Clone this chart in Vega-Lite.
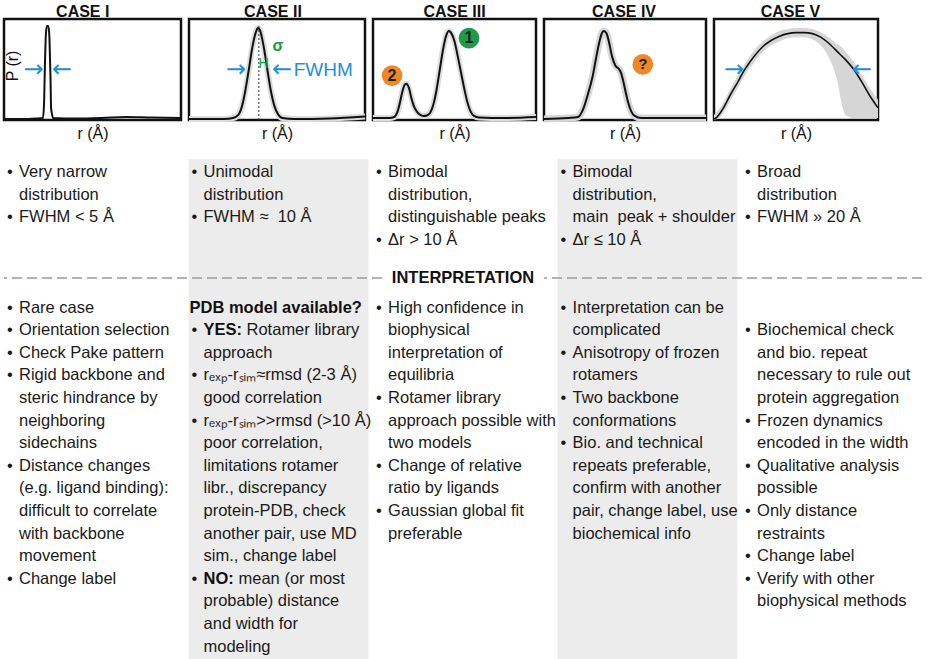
{
  "$schema": "https://vega.github.io/schema/vega-lite/v6.json",
  "padding": {"left": -2, "top": 3, "right": 0, "bottom": 0},
  "background": "white",
  "config": {
    "font": "Liberation Sans",
    "view": {"stroke": "#111111", "strokeWidth": 2.5},
    "axis": {"grid": false, "labels": false, "ticks": false, "domain": false, "titleFontSize": 16, "titleFontWeight": "normal", "titleColor": "#111111", "titlePadding": 5, "titleFont": "Liberation Sans"},
    "text": {"font": "Liberation Sans", "color": "#1a1a1a"}
  },
  "datasets": {
    "curves": [
      {"c": "I", "r": 0, "p": 0.01}, {"c": "I", "r": 10, "p": 0.01}, {"c": "I", "r": 18, "p": 0.015}, {"c": "I", "r": 22, "p": 0.02},
      {"c": "I", "r": 22.6, "p": 0.15}, {"c": "I", "r": 23.2, "p": 0.6}, {"c": "I", "r": 23.7, "p": 0.86}, {"c": "I", "r": 24.3, "p": 0.93},
      {"c": "I", "r": 25.1, "p": 0.93}, {"c": "I", "r": 25.7, "p": 0.8}, {"c": "I", "r": 26.3, "p": 0.4}, {"c": "I", "r": 26.6, "p": 0.12},
      {"c": "I", "r": 27.1, "p": 0.06}, {"c": "I", "r": 27.7, "p": 0.02}, {"c": "I", "r": 40, "p": 0.015}, {"c": "I", "r": 55, "p": 0.02},
      {"c": "I", "r": 69, "p": 0.03}, {"c": "I", "r": 83, "p": 0.025}, {"c": "I", "r": 100, "p": 0.02},

      {"c": "II", "r": 0, "p": 0.01}, {"c": "II", "r": 20, "p": 0.01}, {"c": "II", "r": 25, "p": 0.02}, {"c": "II", "r": 28, "p": 0.05},
      {"c": "II", "r": 30, "p": 0.13}, {"c": "II", "r": 32, "p": 0.29}, {"c": "II", "r": 34, "p": 0.5}, {"c": "II", "r": 36, "p": 0.72},
      {"c": "II", "r": 38, "p": 0.87}, {"c": "II", "r": 39.2, "p": 0.91}, {"c": "II", "r": 40.5, "p": 0.88}, {"c": "II", "r": 42.5, "p": 0.72},
      {"c": "II", "r": 44.5, "p": 0.5}, {"c": "II", "r": 46.5, "p": 0.29}, {"c": "II", "r": 48.5, "p": 0.14}, {"c": "II", "r": 50.5, "p": 0.06},
      {"c": "II", "r": 53, "p": 0.02}, {"c": "II", "r": 60, "p": 0.01}, {"c": "II", "r": 80, "p": 0.015}, {"c": "II", "r": 100, "p": 0.035},

      {"c": "III", "r": 0, "p": 0.02}, {"c": "III", "r": 10, "p": 0.02}, {"c": "III", "r": 13, "p": 0.03}, {"c": "III", "r": 15, "p": 0.08},
      {"c": "III", "r": 16.5, "p": 0.17}, {"c": "III", "r": 18, "p": 0.28}, {"c": "III", "r": 19.5, "p": 0.35}, {"c": "III", "r": 20.5, "p": 0.36},
      {"c": "III", "r": 22, "p": 0.32}, {"c": "III", "r": 23.5, "p": 0.22}, {"c": "III", "r": 25, "p": 0.14}, {"c": "III", "r": 27, "p": 0.08},
      {"c": "III", "r": 29, "p": 0.05}, {"c": "III", "r": 31, "p": 0.04}, {"c": "III", "r": 33, "p": 0.045}, {"c": "III", "r": 35, "p": 0.07},
      {"c": "III", "r": 37, "p": 0.15}, {"c": "III", "r": 39, "p": 0.3}, {"c": "III", "r": 41, "p": 0.5}, {"c": "III", "r": 43, "p": 0.7},
      {"c": "III", "r": 45, "p": 0.84}, {"c": "III", "r": 46.6, "p": 0.88}, {"c": "III", "r": 48, "p": 0.86}, {"c": "III", "r": 50, "p": 0.78},
      {"c": "III", "r": 52, "p": 0.63}, {"c": "III", "r": 54, "p": 0.47}, {"c": "III", "r": 56, "p": 0.31}, {"c": "III", "r": 58, "p": 0.17},
      {"c": "III", "r": 60, "p": 0.08}, {"c": "III", "r": 62, "p": 0.04}, {"c": "III", "r": 65, "p": 0.025}, {"c": "III", "r": 80, "p": 0.02},
      {"c": "III", "r": 100, "p": 0.03},

      {"c": "IV", "r": 0, "p": 0.01}, {"c": "IV", "r": 15, "p": 0.02}, {"c": "IV", "r": 21, "p": 0.03}, {"c": "IV", "r": 24, "p": 0.1},
      {"c": "IV", "r": 27, "p": 0.25}, {"c": "IV", "r": 30, "p": 0.43}, {"c": "IV", "r": 32, "p": 0.6}, {"c": "IV", "r": 34, "p": 0.76},
      {"c": "IV", "r": 35.5, "p": 0.85}, {"c": "IV", "r": 37, "p": 0.88}, {"c": "IV", "r": 38.5, "p": 0.86}, {"c": "IV", "r": 40, "p": 0.78},
      {"c": "IV", "r": 42, "p": 0.63}, {"c": "IV", "r": 44, "p": 0.54}, {"c": "IV", "r": 46, "p": 0.51}, {"c": "IV", "r": 47.5, "p": 0.47},
      {"c": "IV", "r": 49, "p": 0.38}, {"c": "IV", "r": 50.5, "p": 0.27}, {"c": "IV", "r": 52, "p": 0.17}, {"c": "IV", "r": 54, "p": 0.08},
      {"c": "IV", "r": 56, "p": 0.04}, {"c": "IV", "r": 60, "p": 0.02}, {"c": "IV", "r": 100, "p": 0.02},

      {"c": "V", "r": 0, "p": 0.01}, {"c": "V", "r": 1.2, "p": 0.02}, {"c": "V", "r": 5, "p": 0.1}, {"c": "V", "r": 10, "p": 0.25},
      {"c": "V", "r": 15, "p": 0.39}, {"c": "V", "r": 18, "p": 0.48}, {"c": "V", "r": 20, "p": 0.53}, {"c": "V", "r": 25, "p": 0.64},
      {"c": "V", "r": 30, "p": 0.73}, {"c": "V", "r": 35, "p": 0.79}, {"c": "V", "r": 40, "p": 0.83}, {"c": "V", "r": 45, "p": 0.855},
      {"c": "V", "r": 50, "p": 0.865}, {"c": "V", "r": 55, "p": 0.865}, {"c": "V", "r": 60, "p": 0.855}, {"c": "V", "r": 65, "p": 0.82},
      {"c": "V", "r": 70, "p": 0.76}, {"c": "V", "r": 75, "p": 0.68}, {"c": "V", "r": 80, "p": 0.6}, {"c": "V", "r": 85, "p": 0.505},
      {"c": "V", "r": 90, "p": 0.38}, {"c": "V", "r": 95, "p": 0.24}, {"c": "V", "r": 100, "p": 0.12}
    ],
    "band5": [
      {"r": 0, "lo": 0.0, "hi": 0.05}, {"r": 5, "lo": 0.05, "hi": 0.15}, {"r": 10, "lo": 0.19, "hi": 0.31}, {"r": 15, "lo": 0.33, "hi": 0.45},
      {"r": 20, "lo": 0.47, "hi": 0.59}, {"r": 25, "lo": 0.58, "hi": 0.7}, {"r": 30, "lo": 0.68, "hi": 0.78}, {"r": 35, "lo": 0.74, "hi": 0.84},
      {"r": 40, "lo": 0.78, "hi": 0.88}, {"r": 45, "lo": 0.81, "hi": 0.9}, {"r": 50, "lo": 0.82, "hi": 0.91}, {"r": 55, "lo": 0.82, "hi": 0.91},
      {"r": 60, "lo": 0.8, "hi": 0.9}, {"r": 65, "lo": 0.74, "hi": 0.87}, {"r": 70, "lo": 0.62, "hi": 0.82}, {"r": 75, "lo": 0.4, "hi": 0.75},
      {"r": 78, "lo": 0.15, "hi": 0.72}, {"r": 80, "lo": 0.05, "hi": 0.68}, {"r": 85, "lo": 0.02, "hi": 0.58}, {"r": 90, "lo": 0.02, "hi": 0.45},
      {"r": 95, "lo": 0.02, "hi": 0.32}, {"r": 100, "lo": 0.02, "hi": 0.2}
    ],
    "notes": [
      {"case": "CASE I", "line": 0, "kind": "b", "text": "Very narrow"},
      {"case": "CASE I", "line": 1, "kind": "c", "text": "distribution"},
      {"case": "CASE I", "line": 2, "kind": "b", "text": "FWHM < 5 Å"},
      {"case": "CASE I", "line": 6, "kind": "b", "text": "Rare case"},
      {"case": "CASE I", "line": 7, "kind": "b", "text": "Orientation selection"},
      {"case": "CASE I", "line": 8, "kind": "b", "text": "Check Pake pattern"},
      {"case": "CASE I", "line": 9, "kind": "b", "text": "Rigid backbone and"},
      {"case": "CASE I", "line": 10, "kind": "c", "text": "steric hindrance by"},
      {"case": "CASE I", "line": 11, "kind": "c", "text": "neighboring"},
      {"case": "CASE I", "line": 12, "kind": "c", "text": "sidechains"},
      {"case": "CASE I", "line": 13, "kind": "b", "text": "Distance changes"},
      {"case": "CASE I", "line": 14, "kind": "c", "text": "(e.g. ligand binding):"},
      {"case": "CASE I", "line": 15, "kind": "c", "text": "difficult to correlate"},
      {"case": "CASE I", "line": 16, "kind": "c", "text": "with backbone"},
      {"case": "CASE I", "line": 17, "kind": "c", "text": "movement"},
      {"case": "CASE I", "line": 18, "kind": "b", "text": "Change label"},

      {"case": "CASE II", "line": 0, "kind": "b", "text": "Unimodal"},
      {"case": "CASE II", "line": 1, "kind": "c", "text": "distribution"},
      {"case": "CASE II", "line": 2, "kind": "b", "text": "FWHM ≈\u00a0 10 Å"},
      {"case": "CASE II", "line": 6, "kind": "h", "text": "PDB model available?"},
      {"case": "CASE II", "line": 7, "kind": "lab", "lab": "YES:", "text": "Rotamer library"},
      {"case": "CASE II", "line": 8, "kind": "c", "text": "approach"},
      {"case": "CASE II", "line": 9, "kind": "b", "text": "rₑₓₚ-rₛᵢₘ≈rmsd (2-3 Å)"},
      {"case": "CASE II", "line": 10, "kind": "c", "text": "good correlation"},
      {"case": "CASE II", "line": 11, "kind": "b", "text": "rₑₓₚ-rₛᵢₘ>>rmsd (>10 Å)"},
      {"case": "CASE II", "line": 12, "kind": "c", "text": "poor correlation,"},
      {"case": "CASE II", "line": 13, "kind": "c", "text": "limitations rotamer"},
      {"case": "CASE II", "line": 14, "kind": "c", "text": "libr., discrepancy"},
      {"case": "CASE II", "line": 15, "kind": "c", "text": "protein-PDB, check"},
      {"case": "CASE II", "line": 16, "kind": "c", "text": "another pair, use MD"},
      {"case": "CASE II", "line": 17, "kind": "c", "text": "sim., change label"},
      {"case": "CASE II", "line": 18, "kind": "lab", "lab": "NO:", "text": "mean (or most"},
      {"case": "CASE II", "line": 19, "kind": "c", "text": "probable) distance"},
      {"case": "CASE II", "line": 20, "kind": "c", "text": "and width for"},
      {"case": "CASE II", "line": 21, "kind": "c", "text": "modeling"},

      {"case": "CASE III", "line": 0, "kind": "b", "text": "Bimodal"},
      {"case": "CASE III", "line": 1, "kind": "c", "text": "distribution,"},
      {"case": "CASE III", "line": 2, "kind": "c", "text": "distinguishable peaks"},
      {"case": "CASE III", "line": 3, "kind": "b", "text": "Δr > 10 Å"},
      {"case": "CASE III", "line": 6, "kind": "b", "text": "High confidence in"},
      {"case": "CASE III", "line": 7, "kind": "c", "text": "biophysical"},
      {"case": "CASE III", "line": 8, "kind": "c", "text": "interpretation of"},
      {"case": "CASE III", "line": 9, "kind": "c", "text": "equilibria"},
      {"case": "CASE III", "line": 10, "kind": "b", "text": "Rotamer library"},
      {"case": "CASE III", "line": 11, "kind": "c", "text": "approach possible with"},
      {"case": "CASE III", "line": 12, "kind": "c", "text": "two models"},
      {"case": "CASE III", "line": 13, "kind": "b", "text": "\u00a0Change of relative"},
      {"case": "CASE III", "line": 14, "kind": "c", "text": "ratio by ligands"},
      {"case": "CASE III", "line": 15, "kind": "b", "text": "Gaussian global fit"},
      {"case": "CASE III", "line": 16, "kind": "c", "text": "preferable"},

      {"case": "CASE IV", "line": 0, "kind": "b", "text": "Bimodal"},
      {"case": "CASE IV", "line": 1, "kind": "c", "text": "distribution,"},
      {"case": "CASE IV", "line": 2, "kind": "c", "text": "main\u00a0 peak + shoulder"},
      {"case": "CASE IV", "line": 3, "kind": "b", "text": "Δr ≤ 10 Å"},
      {"case": "CASE IV", "line": 6, "kind": "b", "text": "Interpretation can be"},
      {"case": "CASE IV", "line": 7, "kind": "c", "text": "complicated"},
      {"case": "CASE IV", "line": 8, "kind": "b", "text": "Anisotropy of frozen"},
      {"case": "CASE IV", "line": 9, "kind": "c", "text": "rotamers"},
      {"case": "CASE IV", "line": 10, "kind": "b", "text": "Two backbone"},
      {"case": "CASE IV", "line": 11, "kind": "c", "text": "conformations"},
      {"case": "CASE IV", "line": 12, "kind": "b", "text": "Bio. and technical"},
      {"case": "CASE IV", "line": 13, "kind": "c", "text": "repeats preferable,"},
      {"case": "CASE IV", "line": 14, "kind": "c", "text": "confirm with another"},
      {"case": "CASE IV", "line": 15, "kind": "c", "text": "pair, change label, use"},
      {"case": "CASE IV", "line": 16, "kind": "c", "text": "biochemical info"},

      {"case": "CASE V", "line": 0, "kind": "b", "text": "Broad"},
      {"case": "CASE V", "line": 1, "kind": "c", "text": "distribution"},
      {"case": "CASE V", "line": 2, "kind": "b", "text": "FWHM » 20 Å"},
      {"case": "CASE V", "line": 7, "kind": "b", "text": "Biochemical check"},
      {"case": "CASE V", "line": 8, "kind": "c", "text": "and bio. repeat"},
      {"case": "CASE V", "line": 9, "kind": "c", "text": "necessary to rule out"},
      {"case": "CASE V", "line": 10, "kind": "c", "text": "protein aggregation"},
      {"case": "CASE V", "line": 11, "kind": "b", "text": "Frozen dynamics"},
      {"case": "CASE V", "line": 12, "kind": "c", "text": "encoded in the width"},
      {"case": "CASE V", "line": 13, "kind": "b", "text": "\u00a0Qualitative analysis"},
      {"case": "CASE V", "line": 14, "kind": "c", "text": "possible"},
      {"case": "CASE V", "line": 15, "kind": "b", "text": "Only distance"},
      {"case": "CASE V", "line": 16, "kind": "c", "text": "restraints"},
      {"case": "CASE V", "line": 17, "kind": "b", "text": "Change label"},
      {"case": "CASE V", "line": 18, "kind": "b", "text": "Verify with other"},
      {"case": "CASE V", "line": 19, "kind": "c", "text": "biophysical methods"}
    ]
  },
  "bounds": "flush",
  "spacing": 140,
  "vconcat": [
    {
      "bounds": "flush",
      "spacing": 8,
      "hconcat": [
        {
          "width": 177, "height": 101,
          "encoding": {
            "x": {"field": "r", "type": "quantitative", "scale": {"domain": [0, 100], "nice": false, "zero": false}, "axis": {"title": "r (Å)"}},
            "y": {"field": "p", "type": "quantitative", "scale": {"domain": [0, 1], "nice": false}, "axis": null}
          },
          "layer": [
            {"data": {"name": "curves"}, "transform": [{"filter": "datum.c == 'I'"}], "mark": {"type": "line", "color": "#111111", "strokeWidth": 2, "interpolate": "monotone"}},
            {"data": {"values": [{"r": 16.7, "p": 0.495, "t": "→"}, {"r": 32.8, "p": 0.495, "t": "←"}]}, "mark": {"type": "text", "color": "#1e8fd8", "fontSize": 24, "font": "DejaVu Sans", "baseline": "middle"}, "encoding": {"text": {"field": "t"}}},
            {"data": {"values": [{"r": 5.3, "p": 0.535, "t": "P (r)"}]}, "mark": {"type": "text", "color": "#111111", "fontSize": 16, "angle": 270, "baseline": "middle"}, "encoding": {"text": {"field": "t"}}},
            {"data": {"values": [{"r": 44.5, "p": 1.015, "t": "CASE I"}]}, "mark": {"type": "text", "color": "#111111", "fontSize": 16, "fontWeight": "bold", "baseline": "alphabetic"}, "encoding": {"text": {"field": "t"}}}
          ]
        },
        {
          "width": 176, "height": 101,
          "encoding": {
            "x": {"field": "r", "type": "quantitative", "scale": {"domain": [0, 100], "nice": false, "zero": false}, "axis": {"title": "r (Å)"}},
            "y": {"field": "p", "type": "quantitative", "scale": {"domain": [0, 1], "nice": false}, "axis": null}
          },
          "layer": [
            {"data": {"name": "curves"}, "transform": [{"filter": "datum.c == 'II'"}], "mark": {"type": "line", "color": "#dcdcdc", "strokeWidth": 6, "interpolate": "monotone"}},
            {"data": {"name": "curves"}, "transform": [{"filter": "datum.c == 'II'"}], "mark": {"type": "line", "color": "#111111", "strokeWidth": 2, "interpolate": "monotone"}},
            {"data": {"values": [{"r": 39.7, "p": 0, "p2": 0.95}]}, "mark": {"type": "rule", "color": "#333333", "strokeWidth": 1, "strokeDash": [2, 2]}, "encoding": {"y2": {"field": "p2"}}},
            {"data": {"values": [{"r": 26.7, "p": 0.495, "t": "→"}, {"r": 52.8, "p": 0.495, "t": "←"}]}, "mark": {"type": "text", "color": "#1e8fd8", "fontSize": 24, "font": "DejaVu Sans", "baseline": "middle"}, "encoding": {"text": {"field": "t"}}},
            {"data": {"values": [{"r": 59.5, "p": 0.495, "t": "FWHM"}]}, "mark": {"type": "text", "color": "#1e8fd8", "fontSize": 19, "align": "left", "baseline": "middle"}, "encoding": {"text": {"field": "t"}}},
            {"data": {"values": [{"r": 42.4, "p": 0.55, "t": "H"}]}, "mark": {"type": "text", "color": "#1a9a40", "fontSize": 14, "baseline": "middle"}, "encoding": {"text": {"field": "t"}}},
            {"data": {"values": [{"r": 50.5, "p": 0.73, "t": "σ"}]}, "mark": {"type": "text", "color": "#1a9a40", "fontSize": 16, "fontWeight": "bold", "baseline": "middle"}, "encoding": {"text": {"field": "t"}}},
            {"data": {"values": [{"r": 47.7, "p": 1.015, "t": "CASE II"}]}, "mark": {"type": "text", "color": "#111111", "fontSize": 16, "fontWeight": "bold", "baseline": "alphabetic"}, "encoding": {"text": {"field": "t"}}}
          ]
        },
        {
          "width": 163, "height": 101,
          "encoding": {
            "x": {"field": "r", "type": "quantitative", "scale": {"domain": [0, 100], "nice": false, "zero": false}, "axis": {"title": "r (Å)"}},
            "y": {"field": "p", "type": "quantitative", "scale": {"domain": [0, 1], "nice": false}, "axis": null}
          },
          "layer": [
            {"data": {"name": "curves"}, "transform": [{"filter": "datum.c == 'III'"}], "mark": {"type": "line", "color": "#dcdcdc", "strokeWidth": 6, "interpolate": "monotone"}},
            {"data": {"name": "curves"}, "transform": [{"filter": "datum.c == 'III'"}], "mark": {"type": "line", "color": "#111111", "strokeWidth": 2, "interpolate": "monotone"}},
            {"data": {"values": [{"r": 58.9, "p": 0.81, "t": "1"}]}, "mark": {"type": "point", "filled": true, "opacity": 1, "size": 430, "color": "#1f9a4b"}},
            {"data": {"values": [{"r": 11.7, "p": 0.44, "t": "2"}]}, "mark": {"type": "point", "filled": true, "opacity": 1, "size": 430, "color": "#ef8727"}},
            {"data": {"values": [{"r": 58.9, "p": 0.81, "t": "1"}, {"r": 11.7, "p": 0.44, "t": "2"}]}, "mark": {"type": "text", "color": "#222222", "fontSize": 16, "fontWeight": "bold", "baseline": "middle"}, "encoding": {"text": {"field": "t"}}},
            {"data": {"values": [{"r": 50, "p": 1.015, "t": "CASE III"}]}, "mark": {"type": "text", "color": "#111111", "fontSize": 16, "fontWeight": "bold", "baseline": "alphabetic"}, "encoding": {"text": {"field": "t"}}}
          ]
        },
        {
          "width": 162, "height": 101,
          "encoding": {
            "x": {"field": "r", "type": "quantitative", "scale": {"domain": [0, 100], "nice": false, "zero": false}, "axis": {"title": "r (Å)"}},
            "y": {"field": "p", "type": "quantitative", "scale": {"domain": [0, 1], "nice": false}, "axis": null}
          },
          "layer": [
            {"data": {"name": "curves"}, "transform": [{"filter": "datum.c == 'IV'"}], "mark": {"type": "line", "color": "#d6d6d6", "strokeWidth": 7, "interpolate": "monotone"}},
            {"data": {"name": "curves"}, "transform": [{"filter": "datum.c == 'IV'"}], "mark": {"type": "line", "color": "#111111", "strokeWidth": 2, "interpolate": "monotone"}},
            {"data": {"values": [{"r": 61, "p": 0.55, "t": "?"}]}, "mark": {"type": "point", "filled": true, "opacity": 1, "size": 430, "color": "#ef8727"}},
            {"data": {"values": [{"r": 61, "p": 0.55, "t": "?"}]}, "mark": {"type": "text", "color": "#222222", "fontSize": 15, "fontWeight": "bold", "baseline": "middle"}, "encoding": {"text": {"field": "t"}}},
            {"data": {"values": [{"r": 49.4, "p": 1.015, "t": "CASE IV"}]}, "mark": {"type": "text", "color": "#111111", "fontSize": 16, "fontWeight": "bold", "baseline": "alphabetic"}, "encoding": {"text": {"field": "t"}}}
          ]
        },
        {
          "width": 164, "height": 101,
          "encoding": {
            "x": {"field": "r", "type": "quantitative", "scale": {"domain": [0, 100], "nice": false, "zero": false}, "axis": {"title": "r (Å)"}},
            "y": {"field": "p", "type": "quantitative", "scale": {"domain": [0, 1], "nice": false}, "axis": null}
          },
          "layer": [
            {"data": {"name": "band5"}, "mark": {"type": "area", "color": "#d6d6d6", "interpolate": "monotone"}, "encoding": {"y": {"field": "lo", "type": "quantitative"}, "y2": {"field": "hi"}}},
            {"data": {"name": "curves"}, "transform": [{"filter": "datum.c == 'V'"}], "mark": {"type": "line", "color": "#111111", "strokeWidth": 1.6, "interpolate": "monotone"}},
            {"data": {"values": [{"r": 12.2, "p": 0.5, "t": "→"}, {"r": 90.2, "p": 0.5, "t": "←"}]}, "mark": {"type": "text", "color": "#1e8fd8", "fontSize": 24, "font": "DejaVu Sans", "baseline": "middle"}, "encoding": {"text": {"field": "t"}}},
            {"data": {"values": [{"r": 46.6, "p": 1.015, "t": "CASE V"}]}, "mark": {"type": "text", "color": "#111111", "fontSize": 16, "fontWeight": "bold", "baseline": "alphabetic"}, "encoding": {"text": {"field": "t"}}}
          ]
        }
      ]
    },
    {
      "width": 918, "height": 501,
      "view": {"stroke": null},
      "layer": [
        {
          "data": {"values": [{"case": "CASE II"}, {"case": "CASE IV"}]},
          "mark": {"type": "bar", "color": "#ececec"},
          "encoding": {
            "x": {"field": "case", "type": "nominal", "scale": {"type": "band", "domain": ["CASE I", "CASE II", "CASE III", "CASE IV", "CASE V"], "paddingInner": 0.025, "paddingOuter": 0}, "axis": null},
            "y": {"datum": -0.575, "type": "quantitative", "scale": {"domain": [-0.575, 21.593], "reverse": true, "nice": false, "zero": false}, "axis": null},
            "y2": {"datum": 21.593}
          }
        },
        {
          "data": {"values": [{}]},
          "mark": {"type": "rule", "color": "#9a9a9a", "strokeWidth": 1.5, "strokeDash": [10, 5]},
          "encoding": {"y": {"datum": 4.69, "type": "quantitative"}}
        },
        {
          "data": {"values": [{}]},
          "mark": {"type": "bar", "color": "white", "width": {"band": 0.9}},
          "encoding": {
            "x": {"datum": "CASE III", "type": "nominal"},
            "y": {"datum": 4.3, "type": "quantitative"},
            "y2": {"datum": 5.1}
          }
        },
        {
          "data": {"values": [{"t": "INTERPRETATION"}]},
          "mark": {"type": "text", "fontSize": 16.5, "fontWeight": "bold", "baseline": "middle", "align": "center", "color": "#111111"},
          "encoding": {
            "x": {"datum": "CASE III", "type": "nominal"},
            "y": {"datum": 4.69, "type": "quantitative"},
            "text": {"field": "t"}
          }
        },
        {
          "data": {"name": "notes"},
          "transform": [{"filter": "datum.kind == 'b' || datum.kind == 'lab'"}],
          "mark": {"type": "text", "text": "•", "fontSize": 16.5, "align": "left", "baseline": "middle", "dx": 3},
          "encoding": {
            "x": {"field": "case", "type": "nominal", "bandPosition": 0},
            "y": {"field": "line", "type": "quantitative"}
          }
        },
        {
          "data": {"name": "notes"},
          "transform": [{"filter": "datum.kind == 'b' || datum.kind == 'c'"}],
          "mark": {"type": "text", "fontSize": 16.5, "align": "left", "baseline": "middle", "dx": 15},
          "encoding": {
            "x": {"field": "case", "type": "nominal", "bandPosition": 0},
            "y": {"field": "line", "type": "quantitative"},
            "text": {"field": "text"}
          }
        },
        {
          "data": {"name": "notes"},
          "transform": [{"filter": "datum.kind == 'h'"}],
          "mark": {"type": "text", "fontSize": 16.5, "fontWeight": "bold", "align": "left", "baseline": "middle", "dx": 1, "color": "#111111"},
          "encoding": {
            "x": {"field": "case", "type": "nominal", "bandPosition": 0},
            "y": {"field": "line", "type": "quantitative"},
            "text": {"field": "text"}
          }
        },
        {
          "data": {"name": "notes"},
          "transform": [{"filter": "datum.kind == 'lab'"}],
          "mark": {"type": "text", "fontSize": 16.5, "fontWeight": "bold", "align": "left", "baseline": "middle", "dx": 15, "color": "#111111"},
          "encoding": {
            "x": {"field": "case", "type": "nominal", "bandPosition": 0},
            "y": {"field": "line", "type": "quantitative"},
            "text": {"field": "lab"}
          }
        },
        {
          "data": {"name": "notes"},
          "transform": [{"filter": "datum.kind == 'lab' && datum.lab == 'YES:'"}],
          "mark": {"type": "text", "fontSize": 16.5, "align": "left", "baseline": "middle", "dx": 58},
          "encoding": {
            "x": {"field": "case", "type": "nominal", "bandPosition": 0},
            "y": {"field": "line", "type": "quantitative"},
            "text": {"field": "text"}
          }
        },
        {
          "data": {"name": "notes"},
          "transform": [{"filter": "datum.kind == 'lab' && datum.lab == 'NO:'"}],
          "mark": {"type": "text", "fontSize": 16.5, "align": "left", "baseline": "middle", "dx": 50},
          "encoding": {
            "x": {"field": "case", "type": "nominal", "bandPosition": 0},
            "y": {"field": "line", "type": "quantitative"},
            "text": {"field": "text"}
          }
        }
      ]
    }
  ]
}
